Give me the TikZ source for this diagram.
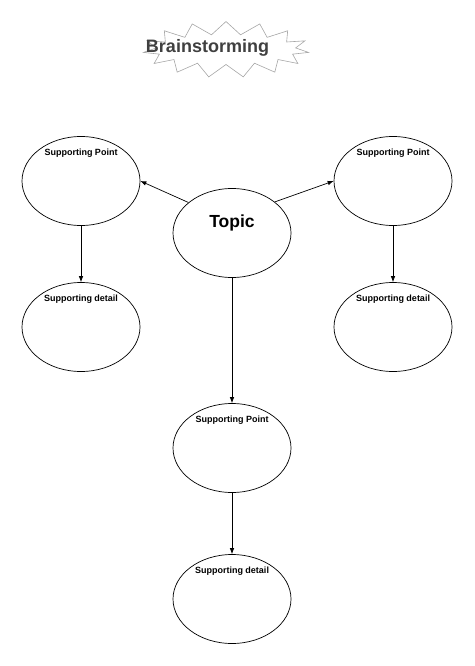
\documentclass[tikz,border=0pt]{standalone}
\usepackage{fontspec}
\setmainfont{Liberation Sans}
\usetikzlibrary{shapes.symbols,shapes.geometric,arrows.meta}

\begin{document}
\begin{tikzpicture}[x=1pt, y=-1pt,
  bubble/.style={draw, ellipse, line width=0.7pt, minimum width=118pt, minimum height=89pt, inner sep=0pt},
  >={Latex[length=6pt,width=4.5pt]}]

\def \colL {81}
\def \colM {232}
\def \colR {393}
\def \gap {-17pt} % text sits this far below the top of a bubble

\useasboundingbox (0,0) rectangle (474,666);

% title
\node[starburst, draw=gray!70, line width=0.6pt, starburst points=15, starburst point height=13pt,
  random starburst=0, minimum width=166pt, minimum height=56pt] (burst) at (226,49.5) {};
\node[font=\fontsize{18}{20}\selectfont\bfseries, text=black!75] (title) at (207.5,48) {Brainstorming};

% topic
\node[bubble, label={[font=\fontsize{17.5}{19}\selectfont\bfseries, anchor=center, yshift=10.5pt]center:Topic}] (topic) at (\colM,233) {};

% points and details
\foreach \name/\x/\ya/\yb in {L/\colL/181/327, R/\colR/181/327, M/\colM/448/599}
{
  \node[bubble, label={[font=\fontsize{9}{11}\selectfont\bfseries, anchor=center, yshift=\gap]north:Supporting Point}] (point\name) at (\x,\ya) {};
  \node[bubble, label={[font=\fontsize{9}{11}\selectfont\bfseries, anchor=center, yshift=\gap]north:Supporting detail}] (detail\name) at (\x,\yb) {};
  \draw[->, line width=0.7pt] (point\name.south) -- (detail\name.north);
}

\draw[->, line width=0.7pt] (topic.145) -- (pointL.east);
\draw[->, line width=0.7pt] (topic.36) -- (pointR.west);
\draw[->, line width=0.7pt] (topic.south) -- (pointM.north);
\end{tikzpicture}
\end{document}
